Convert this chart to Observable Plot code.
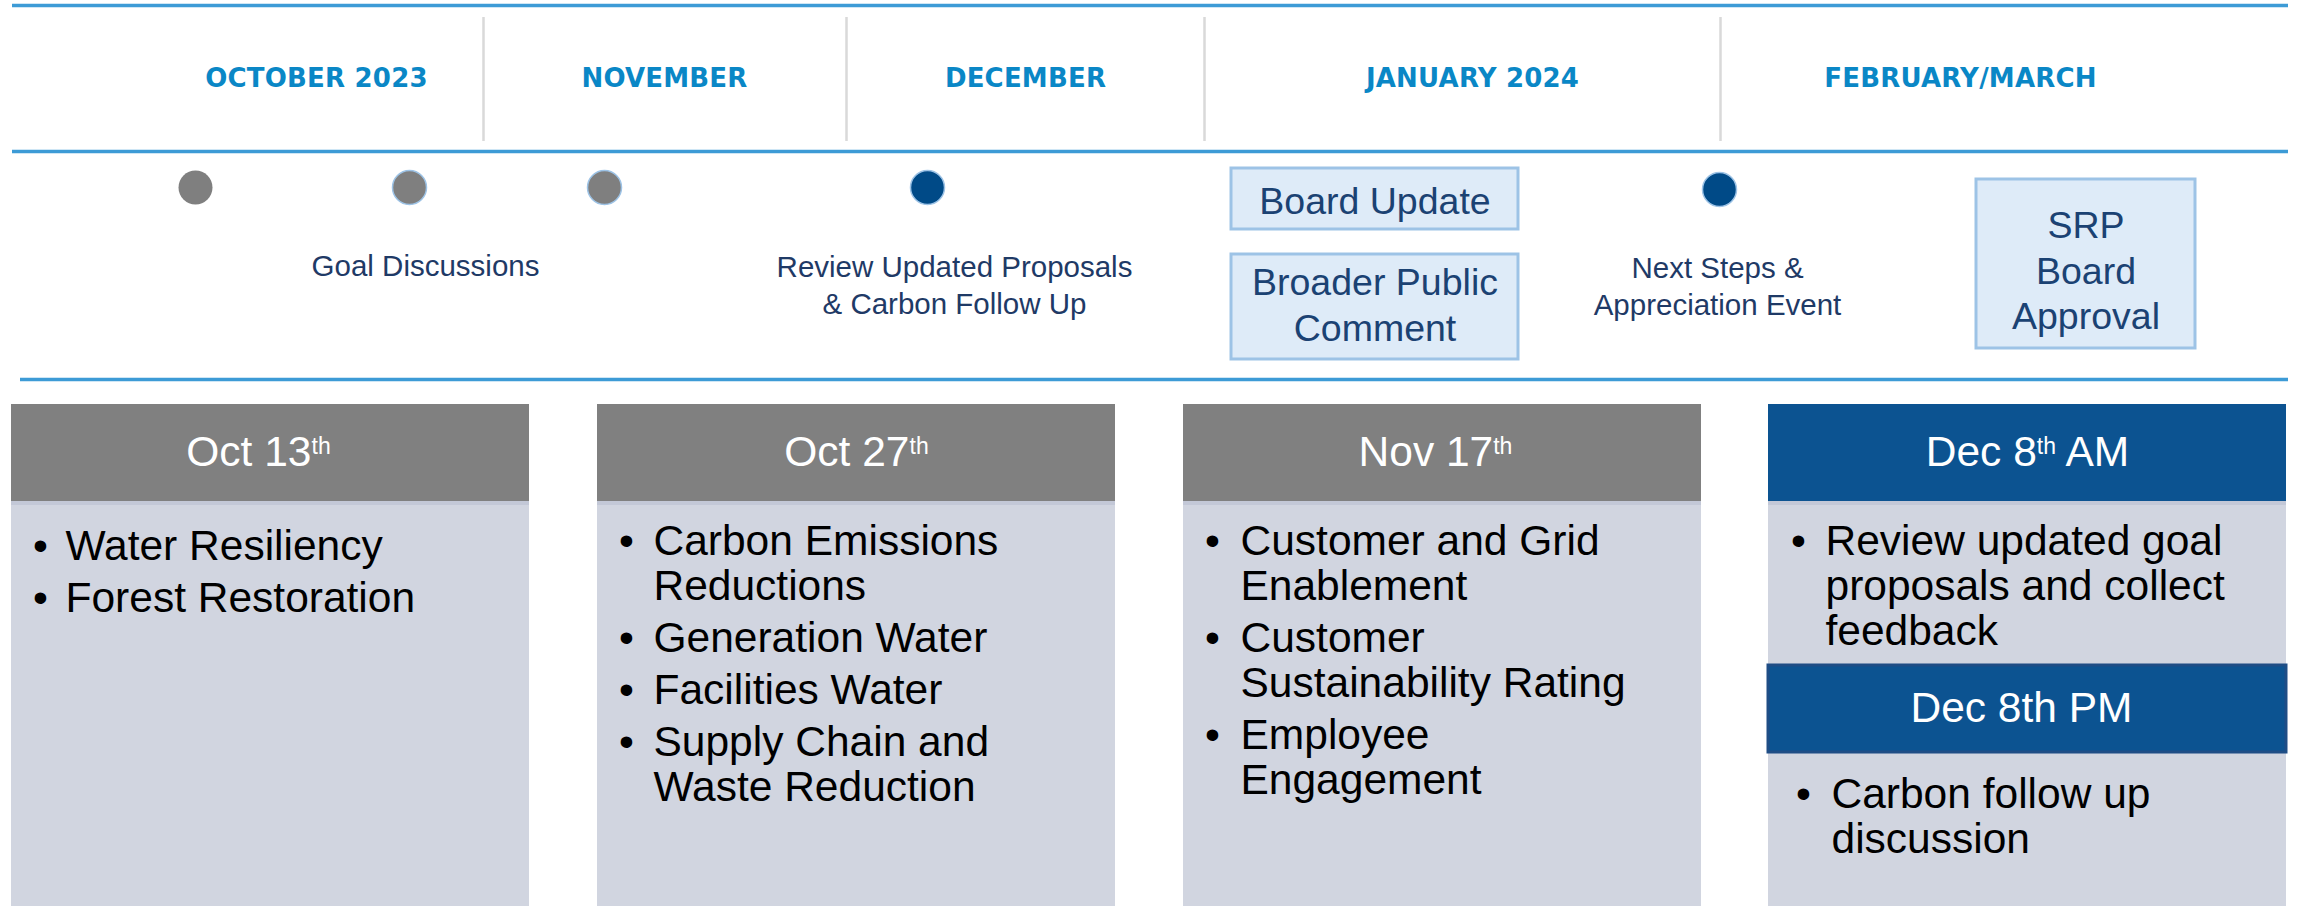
<!DOCTYPE html>
<html>
<head>
<meta charset="utf-8">
<script src="https://cdn.jsdelivr.net/npm/d3@7"></script>
<script src="https://cdn.jsdelivr.net/npm/@observablehq/plot@0.6"></script>
<style>
  html, body { margin: 0; padding: 0; background: #ffffff; overflow: hidden; }
  #chart svg { display: block; }
</style>
</head>
<body>
<div id="chart"></div>
<script>
// ---------------- DATA ----------------
const months = ["OCTOBER 2023", "NOVEMBER", "DECEMBER", "JANUARY 2024", "FEBRUARY/MARCH"];
const meetings = ["Oct 13", "Oct 27", "Nov 17", "Dec 8", "Next Steps"];
const meetingStatus = ["past", "past", "past", "current", "current"];
const milestoneNotes = ["Goal Discussions", "Review Updated Proposals\n& Carbon Follow Up", "Next Steps &\nAppreciation Event"];
const boardSteps = ["Board Update", "Broader Public\nComment", "SRP\nBoard\nApproval"];
const sessionTitles = ["Oct 13th", "Oct 27th", "Nov 17th", "Dec 8th AM", "Dec 8th PM"];
const sessionSuperscript = [true, true, true, true, false];
const sessionStatus = ["past", "past", "past", "current", "current"];
const sessionTopics = [
  ["Water Resiliency", "Forest Restoration"],
  ["Carbon Emissions\nReductions", "Generation Water", "Facilities Water", "Supply Chain and\nWaste Reduction"],
  ["Customer and Grid\nEnablement", "Customer\nSustainability Rating", "Employee\nEngagement"],
  ["Review updated goal\nproposals and collect\nfeedback"],
  ["Carbon follow up\ndiscussion"]
];

// ---------------- LAYOUT ----------------
const W = 2300, H = 906;
const FONT = "Liberation Sans, Arial, Helvetica, sans-serif";
const MONTH_FONT = "DejaVu Sans, Arial, sans-serif";
const lineBlue = "#3d9bd6";
const monthBlue = "#0a87c6";
const navy = "#1f3a66";
const boxText = "#1b4273";

const hLines = [
  {y: 5, x1: 12, x2: 2288},
  {y: 151, x1: 12, x2: 2288},
  {y: 379, x1: 20, x2: 2288}
];
const monthX = [316, 664, 1025, 1472, 1960];
const dividerX = [483, 846, 1204, 1720];
const dotX = [195, 409, 604, 927, 1719];
const dotY = [187, 187, 187, 187, 189];
const dotColor = {past: "#7f7f7f", current: "#004a87"};
const noteX = [425, 954, 1717];
const noteY = [264, 283.5, 284.5];
const boxGeom = [
  {x1: 1231, x2: 1518, y1: 168, y2: 229, cx: 1374.5, cy: 199},
  {x1: 1231, x2: 1518, y1: 254, y2: 359, cx: 1374.5, cy: 303},
  {x1: 1976, x2: 2195, y1: 179, y2: 348, cx: 2085.5, cy: 268.5}
];
const cardLeft = [11, 597, 1183, 1768];
const cardW = 518;
const headerColor = {past: "#808080", current: "#0c5391"};
const sessionGeom = [
  {card: 0, hy1: 404, hy2: 501, tx: 258, ty: 452, listY: 546, bx: 29, lx: 54},
  {card: 1, hy1: 404, hy2: 501, tx: 856, ty: 452, listY: 541, bx: 29, lx: 56},
  {card: 2, hy1: 404, hy2: 501, tx: 1435, ty: 452, listY: 541, bx: 29, lx: 57},
  {card: 3, hy1: 404, hy2: 501, tx: 2027, ty: 452, listY: 541, bx: 30, lx: 57},
  {card: 3, hy1: 665, hy2: 752, tx: 2021, ty: 708, listY: 794, bx: 35, lx: 63, border: true}
];
const LINE = 45, PARA = 52;

// ---------------- DERIVED TABLES ----------------
const monthRows = months.map((m, i) => ({label: m, x: monthX[i], y: 78}));
const dividerRows = dividerX.map(x => ({x, y1: 17, y2: 141}));
const dotRows = meetings.map((m, i) => ({meeting: m, status: meetingStatus[i], x: dotX[i], y: dotY[i]}));
const noteRows = milestoneNotes.map((t, i) => ({text: t, x: noteX[i], y: noteY[i]}));
const boxRows = boardSteps.map((t, i) => ({text: t, ...boxGeom[i]}));
const cardRows = cardLeft.map(l => ({x1: l, x2: l + cardW, y1: 501, y2: H}));
const stripRows = cardLeft.map(l => ({x1: l, x2: l + cardW, y1: 501, y2: 505}));
const headerRows = sessionTitles.map((t, i) => {
  const g = sessionGeom[i];
  const l = cardLeft[g.card];
  return {title: t, status: sessionStatus[i], x1: l, x2: l + cardW, y1: g.hy1, y2: g.hy2,
          cx: g.tx, cy: g.ty, border: !!g.border};
});
const bulletRows = [];
const topicRows = [];
sessionTopics.forEach((items, i) => {
  const g = sessionGeom[i];
  const l = cardLeft[g.card];
  let y = g.listY;
  items.forEach((item) => {
    const lines = item.split("\n");
    bulletRows.push({x: l + g.bx, y});
    lines.forEach((ln, k) => {
      topicRows.push({text: ln, x: l + g.lx, y});
      if (k < lines.length - 1) y += LINE;
    });
    y += PARA;
  });
});

// ---------------- PLOT ----------------
const chart = Plot.plot({
  width: W,
  height: H,
  margin: 0,
  x: {domain: [0, W], range: [0, W], axis: null},
  y: {domain: [0, H], range: [0, H], axis: null},
  color: {type: "identity"},
  style: {background: "#ffffff", fontFamily: FONT},
  marks: [
    Plot.ruleY(hLines, {y: "y", x1: "x1", x2: "x2", stroke: lineBlue, strokeWidth: 3.5}),
    Plot.ruleX(dividerRows, {x: "x", y1: "y1", y2: "y2", stroke: "#d9d9d9", strokeWidth: 2.5}),
    Plot.text(monthRows, {x: "x", y: "y", text: "label", fill: monthBlue, fontSize: 26, fontWeight: "bold",
      fontFamily: MONTH_FONT, textAnchor: "middle", lineAnchor: "middle"}),
    Plot.dot(dotRows, {x: "x", y: "y", r: 17, fill: d => dotColor[d.status],
      stroke: (d, i) => i === 0 ? "none" : "#9dc3e6", strokeWidth: 1.5}),
    Plot.text(noteRows, {x: "x", y: "y", text: "text", fill: navy, fontSize: 29.5, lineHeight: 1.25,
      fontFamily: FONT, textAnchor: "middle", lineAnchor: "middle"}),
    Plot.rect(boxRows, {x1: "x1", x2: "x2", y1: "y1", y2: "y2", fill: "#deebf8", stroke: "#9dc3e6", strokeWidth: 3}),
    Plot.text(boxRows, {x: "cx", y: "cy", text: "text", fill: boxText, fontSize: 37.5, lineHeight: 1.22,
      fontFamily: FONT, textAnchor: "middle", lineAnchor: "middle"}),
    Plot.rect(cardRows, {x1: "x1", x2: "x2", y1: "y1", y2: "y2", fill: "#d1d5e0"}),
    Plot.rect(stripRows, {x1: "x1", x2: "x2", y1: "y1", y2: "y2", fill: "#c3c8d7"}),
    Plot.rect(headerRows, {x1: "x1", x2: "x2", y1: "y1", y2: "y2", fill: d => headerColor[d.status],
      stroke: d => d.border ? "#1f4d85" : "none", strokeWidth: 3}),
    Plot.text(headerRows, {x: "cx", y: "cy", text: "title", fill: "#ffffff", fontSize: 42.5,
      fontFamily: FONT, textAnchor: "middle", lineAnchor: "middle"}),
    Plot.text(bulletRows, {x: "x", y: "y", text: () => "•", fill: "#000000", fontSize: 42.5,
      fontFamily: FONT, textAnchor: "middle", lineAnchor: "middle"}),
    Plot.text(topicRows, {x: "x", y: "y", text: "text", fill: "#000000", fontSize: 42.5,
      fontFamily: FONT, textAnchor: "start", lineAnchor: "middle"})
  ]
});
document.getElementById("chart").appendChild(chart);

// slight letter spacing for month labels
d3.select(chart).selectAll("text")
  .filter(function () { return months.includes(this.textContent); })
  .style("letter-spacing", "0.2px");

// superscript ordinal suffixes in session headers
const supTitles = sessionTitles.filter((t, i) => sessionSuperscript[i]);
d3.select(chart).selectAll("text")
  .filter(function () { return supTitles.includes(this.textContent); })
  .each(function () {
    const m = this.textContent.match(/^(.*?\d+)(th)(.*)$/);
    if (!m) return;
    const sel = d3.select(this);
    sel.text(null);
    sel.append("tspan").text(m[1]);
    sel.append("tspan").attr("dy", -12).attr("font-size", 23).text(m[2]);
    if (m[3]) sel.append("tspan").attr("dy", 12).text(m[3]);
  });
</script>
</body>
</html>
